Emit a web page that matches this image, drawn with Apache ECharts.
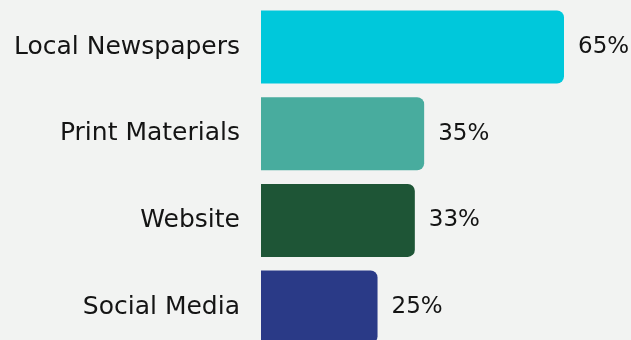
<!DOCTYPE html>
<html>
<head>
<meta charset="utf-8">
<script src="https://cdn.jsdelivr.net/npm/echarts@6/dist/echarts.min.js"></script>
<style>
  html, body { margin: 0; padding: 0; background: #f2f3f2; overflow: hidden; }
  /* the last bar runs past the bottom edge of the view */
  #chart { width: 631px; height: 356px; }
</style>
</head>
<body>
<div id="chart"></div>
<script>
// Share of respondents by information source (%)
const categories = ['Local Newspapers', 'Print Materials', 'Website', 'Social Media'];
const shares = [65, 35, 33, 25];
const barColors = ['#00c8db', '#48ac9e', '#1e5536', '#2a3a87'];

const labelFont = 'DejaVu Sans';

const chart = echarts.init(document.getElementById('chart'), null, { renderer: 'canvas' });

chart.setOption({
  backgroundColor: '#f2f3f2',
  animation: false,
  textStyle: { fontFamily: labelFont },
  grid: { left: 261, width: 303, top: 3.7, height: 346.7, containLabel: false },
  xAxis: {
    type: 'value',
    min: 0,
    max: 65,
    show: false
  },
  yAxis: {
    type: 'category',
    data: categories,
    inverse: true,
    axisLine: { show: false },
    axisTick: { show: false },
    splitLine: { show: false },
    axisLabel: {
      margin: 21,
      fontSize: 25,
      color: '#141414',
      fontFamily: labelFont
    }
  },
  series: [{
    type: 'bar',
    data: shares.map((v, i) => ({ value: v, itemStyle: { color: barColors[i] } })),
    barWidth: 73,
    itemStyle: { borderRadius: [0, 7, 7, 0] },
    label: {
      show: true,
      position: 'right',
      distance: 14,
      fontSize: 23,
      color: '#141414',
      fontFamily: labelFont,
      formatter: p => p.value + '%'
    }
  }]
});
</script>
</body>
</html>
